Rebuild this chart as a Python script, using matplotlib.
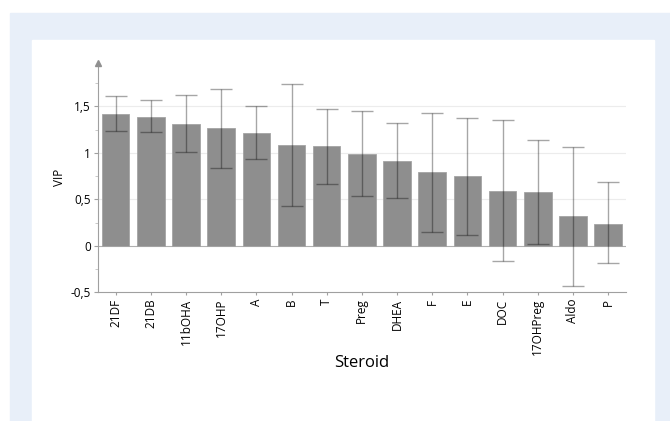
import numpy as np
import matplotlib
matplotlib.use('Agg')
import matplotlib.pyplot as plt
from matplotlib.ticker import FuncFormatter, MultipleLocator

# VIP scores per steroid, with lower / upper ends of the error bars
steroids = ['21DF', '21DB', '11bOHA', '17OHP', 'A', 'B', 'T', 'Preg', 'DHEA',
            'F', 'E', 'DOC', '17OHPreg', 'Aldo', 'P']
vip = [1.42, 1.39, 1.31, 1.27, 1.21, 1.08, 1.07, 0.99, 0.91,
       0.79, 0.75, 0.59, 0.58, 0.32, 0.24]
err_low = [1.24, 1.22, 1.01, 0.84, 0.93, 0.43, 0.66, 0.54, 0.51,
           0.15, 0.12, -0.16, 0.02, -0.43, -0.19]
err_high = [1.61, 1.57, 1.62, 1.69, 1.50, 1.74, 1.47, 1.45, 1.32,
            1.43, 1.37, 1.35, 1.14, 1.06, 0.69]

plt.rcParams['font.family'] = ['Open Sans', 'DejaVu Sans']

fig = plt.figure(figsize=(6.7, 4.21), dpi=100)
fig.patch.set_facecolor('white')

# light blue frame and the white panel inside it
fig.patches.append(plt.Rectangle((10 / 670, 0), 660 / 670, 1 - 13 / 421,
                                 transform=fig.transFigure, color='#e8eff9', zorder=-2))
fig.patches.append(plt.Rectangle((32 / 670, 0), 622 / 670, 1 - 40 / 421,
                                 transform=fig.transFigure, color='white', zorder=-1))

ax = fig.add_axes([97.7 / 670, 1 - 292.3 / 421, (626 - 97.7) / 670, (292.3 - 62.7) / 421])
ax.set_facecolor('none')
ax.set_zorder(2)

x = np.arange(len(steroids))
vip_a = np.array(vip)
yerr = [vip_a - np.array(err_low), np.array(err_high) - vip_a]

ax.bar(x, vip, width=0.785, color='#8e8e8e', edgecolor='#a4a4a4', linewidth=0.6, zorder=2)
ax.errorbar(x, vip, yerr=yerr, fmt='none', ecolor='black', alpha=0.35,
            elinewidth=1.0, capsize=8, capthick=1.0, zorder=3)

ax.set_xlim(-0.51, len(steroids) - 0.49)
ax.set_ylim(-0.5, 1.97)

for v in [0.5, 1, 1.5]:
    ax.axhline(v, color='#ececec', lw=0.8, zorder=1)
ax.axhline(0, color='#b0b0b0', lw=0.8, zorder=1)

for s in ['top', 'right']:
    ax.spines[s].set_visible(False)
for s in ['left', 'bottom']:
    ax.spines[s].set_color('#a0a0a0')
    ax.spines[s].set_linewidth(0.8)
# arrow on top of the y axis
ax.plot(0, 1, marker='^', color='#909090', markersize=4, transform=ax.transAxes,
        clip_on=False, zorder=4)

ax.set_yticks([-0.5, 0, 0.5, 1, 1.5])
ax.yaxis.set_minor_locator(MultipleLocator(0.25))
ax.yaxis.set_major_formatter(FuncFormatter(lambda v, p: ('%g' % v).replace('.', ',')))
ax.tick_params(axis='y', which='major', length=3, color='#a0a0a0', labelsize=8.5, pad=2)
ax.tick_params(axis='y', which='minor', length=2, color='#c0c0c0')

ax.set_xticks(x)
ax.set_xticklabels(steroids, rotation=90, fontsize=8.5)
ax.tick_params(axis='x', length=2.5, color='#a0a0a0', pad=2)

ax.set_ylabel('VIP', fontsize=8.5, labelpad=3)
ax.set_xlabel('Steroid', fontsize=12, labelpad=0)

fig.savefig('out.png', dpi=100)
